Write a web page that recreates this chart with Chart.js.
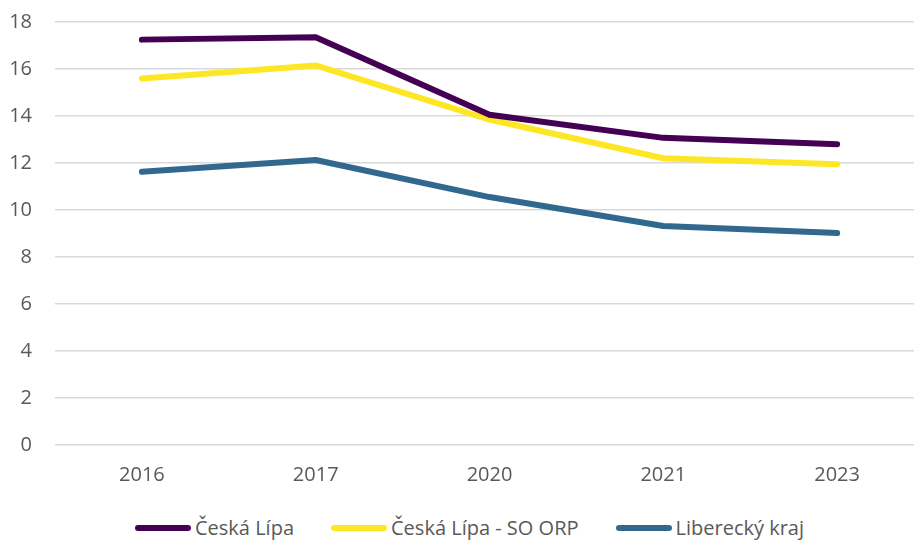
<!DOCTYPE html>
<html>
<head>
<meta charset="utf-8">
<script src="https://cdn.jsdelivr.net/npm/chart.js@4"></script>
<style>
  body { margin: 0; overflow: hidden; background: #fff; font-family: "Open Sans", sans-serif; }
  #wrap { position: relative; top: -13px; width: 924px; height: 513px; }
  #legend { position: absolute; left: 135px; top: 514px; display: flex; align-items: center; color: #595959; font-size: 20px; line-height: 28px; white-space: nowrap; }
  .item { display: flex; align-items: center; margin-right: 37px; }
  .swatch { width: 56px; height: 6px; border-radius: 3px; margin-right: 4px; }
</style>
</head>
<body>
<div id="wrap"><canvas id="chart"></canvas></div>
<div id="legend"></div>
<script>
// chart data
const years = ['2016', '2017', '2020', '2021', '2023'];
const seriesNames = ['Česká Lípa', 'Česká Lípa - SO ORP', 'Liberecký kraj'];
const ceskaLipa = [17.25, 17.35, 14.05, 13.07, 12.8];
const ceskaLipaOrp = [15.6, 16.15, 13.85, 12.2, 11.95];
const libereckyKraj = [11.63, 12.13, 10.55, 9.32, 9.02];
const colors = ['#440154', '#fde725', '#31688e'];

Chart.defaults.font.family = '"Open Sans", sans-serif';
Chart.defaults.color = '#595959';

const datasets = [ceskaLipa, ceskaLipaOrp, libereckyKraj].map((vals, i) => ({
    label: seriesNames[i],
    data: vals,
    borderColor: colors[i],
    backgroundColor: colors[i],
    borderWidth: 6,
    borderCapStyle: 'round',
    borderJoinStyle: 'round',
    pointRadius: 0,
    tension: 0,
    fill: false
}));

const chart = new Chart(document.getElementById('chart'), {
    type: 'line',
    data: { labels: years, datasets: datasets },
    options: {
        responsive: true,
        maintainAspectRatio: false,
        animation: false,
        layout: { padding: { top: 8, right: 0, left: 0, bottom: 0 } },
        plugins: { legend: { display: false }, tooltip: { enabled: false } },
        scales: {
            x: {
                offset: true,
                grid: { display: false, drawTicks: false },
                border: { display: false },
                ticks: { font: { size: 20 }, padding: 18 },
                afterFit: s => { s.height = 55; }
            },
            y: {
                min: 0,
                max: 18,
                ticks: { stepSize: 2, font: { size: 20 }, padding: 23 },
                grid: { color: '#d9d9d9', lineWidth: 1.5, drawTicks: false },
                border: { display: false },
                afterFit: s => { s.width = 55; }
            }
        }
    }
});

// html legend
const legend = document.getElementById('legend');
chart.data.datasets.forEach(ds => {
    const item = document.createElement('div');
    item.className = 'item';
    item.innerHTML = `<span class="swatch" style="background:${ds.borderColor}"></span><span>${ds.label}</span>`;
    legend.appendChild(item);
});
</script>
</body>
</html>
